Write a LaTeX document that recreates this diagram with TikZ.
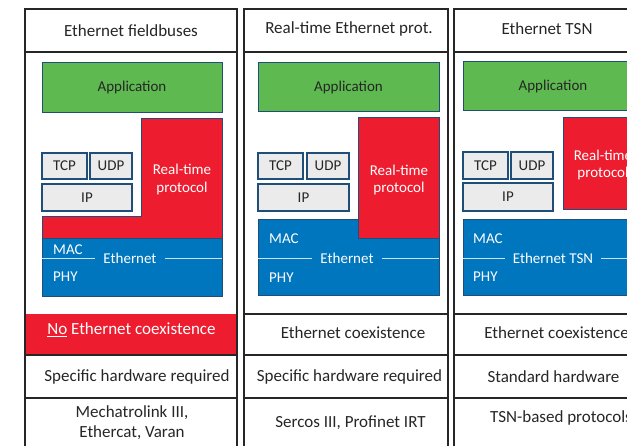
\documentclass[tikz,border=0pt]{standalone}
\usepackage{fontspec}
\setmainfont{Carlito}
\definecolor{appgreen}{RGB}{94,185,80}
\definecolor{rtred}{RGB}{237,28,46}
\definecolor{ethblue}{RGB}{0,118,190}
\definecolor{edgeblue}{RGB}{31,78,121}
\definecolor{ipgray}{RGB}{235,235,235}
\definecolor{ink}{RGB}{38,38,38}
\definecolor{sepline}{RGB}{205,225,242}
\begin{document}
\begin{tikzpicture}[x=1pt,y=-1pt,
  frame/.style={draw=ink, line width=1.5pt},
  bigtext/.style={text=ink, font=\fontsize{17}{20}\selectfont, inner sep=0pt, align=center},
  smalltext/.style={font=\fontsize{15}{17.5}\selectfont, inner sep=0pt},
  lbox/.style={draw=edgeblue, line width=1pt, inner sep=0pt, outer sep=0pt, anchor=north west, smalltext},
  appbox/.style={lbox, fill=appgreen, text=ink},
  ipbox/.style={lbox, fill=ipgray, text=ink, line width=1.4pt},
  rtbox/.style={lbox, fill=rtred},
  ethbox/.style={lbox, fill=ethblue},
  wtext/.style={smalltext, text=white, align=center},
  ethlabel/.style={smalltext, text=white, inner xsep=8pt},
  sep/.style={draw=sepline, line width=0.9pt}]
\useasboundingbox (0,0) rectangle (627,446);
\clip (0,0) rectangle (627,446);
\fill[white] (0,0) rectangle (627,446);

% ---------- column 1 ----------
\fill[rtred] (25,314) rectangle (237,355);
\draw[frame] (25,470) -- (25,9) -- (237,9) -- (237,470);
\draw[frame] (25,52) -- (237,52);
\draw[frame] (25,355) -- (237,355);
\draw[frame] (25,398) -- (237,398);
\node[bigtext] (h1) at (131,31) {Ethernet fieldbuses};
\node[appbox, minimum width=180pt, minimum height=50pt] (app1) at (42,63) {Application};
\draw[edgeblue, line width=1pt, fill=rtred] (141,119) -- (222,119) -- (222,239) -- (42,239) -- (42,217) -- (141,217) -- cycle;
\node[wtext] (rt1) at (182,179.5) {Real-time\\protocol};
\node[ipbox, minimum width=45pt, minimum height=26pt] (tcp1) at (42,153) {TCP};
\node[ipbox, minimum width=42pt, minimum height=26pt] (udp1) at (90,153) {UDP};
\node[ipbox, minimum width=90pt, minimum height=27pt] (ip1) at (42,184) {IP};
\node[ethbox, minimum width=180pt, minimum height=58pt] (eth1) at (42,239) {};
\node[ethlabel] (el1) at (130,258) {Ethernet};
\draw[sep] (eth1.west |- el1.center) -- (el1.west);
\draw[sep] (el1.east) -- (eth1.east |- el1.center);
\node[smalltext, text=white, anchor=west] (mac1) at (53,250) {MAC};
\node[smalltext, text=white, anchor=west] (phy1) at (53,277) {PHY};
\node[bigtext, text=white] (co1) at (131.5,330) {\underline{No} Ethernet coexistence};
\node[bigtext] (hw1) at (137,377) {Specific hardware required};
\node[bigtext, align=center] (ex1) at (132,423) {Mechatrolink III,\\[0pt]Ethercat, Varan};

% ---------- column 2 ----------
\draw[frame] (244,470) -- (244,9) -- (448,9) -- (448,470);
\draw[frame] (244,52) -- (448,52);
\draw[frame] (244,314) -- (448,314);
\draw[frame] (244,355) -- (448,355);
\draw[frame] (244,398) -- (448,398);
\node[bigtext] (h2) at (349,29) {Real-time Ethernet prot.};
\node[appbox, minimum width=181pt, minimum height=49pt] (app2) at (258,63) {Application};
\node[ipbox, minimum width=45pt, minimum height=26pt] (tcp2) at (258,153) {TCP};
\node[ipbox, minimum width=42pt, minimum height=26pt] (udp2) at (307,153) {UDP};
\node[ipbox, minimum width=91pt, minimum height=27pt] (ip2) at (258,184) {IP};
\node[ethbox, minimum width=181pt, minimum height=76pt] (eth2) at (258,220) {};
\node[rtbox, minimum width=81pt, minimum height=121pt] (rtb2) at (358,118) {};
\node[wtext] (rt2) at (399,180) {Real-time\\protocol};
\node[ethlabel] (el2) at (347,258) {Ethernet};
\draw[sep] (eth2.west |- el2.center) -- (el2.west);
\draw[sep] (el2.east) -- (eth2.east |- el2.center);
\node[smalltext, text=white, anchor=west] (mac2) at (269,239) {MAC};
\node[smalltext, text=white, anchor=west] (phy2) at (269,278) {PHY};
\node[bigtext] (co2) at (353,333) {Ethernet coexistence};
\node[bigtext] (hw2) at (349.5,377) {Specific hardware required};
\node[bigtext] (ex2) at (350.5,423) {Sercos III, Profinet IRT};

% ---------- column 3 ----------
\draw[frame] (454,470) -- (454,9) -- (658,9) -- (658,470);
\draw[frame] (454,52) -- (658,52);
\draw[frame] (454,314) -- (658,314);
\draw[frame] (454,355) -- (658,355);
\draw[frame] (454,398) -- (658,398);
\node[bigtext] (h3) at (547,29) {Ethernet TSN};
\node[appbox, minimum width=180pt, minimum height=49pt] (app3) at (463,62) {Application};
\node[ipbox, minimum width=45pt, minimum height=27pt] (tcp3) at (463,152) {TCP};
\node[ipbox, minimum width=42pt, minimum height=27pt] (udp3) at (511,152) {UDP};
\node[ipbox, minimum width=90pt, minimum height=28pt] (ip3) at (463,183) {IP};
\node[rtbox, minimum width=80pt, minimum height=92pt] (rtb3) at (563,118) {};
\node[wtext] (rt3) at (603,165) {Real-time\\protocol};
\node[ethbox, minimum width=180pt, minimum height=76pt] (eth3) at (463,220) {};
\node[ethlabel] (el3) at (553,258) {Ethernet TSN};
\draw[sep] (eth3.west |- el3.center) -- (el3.west);
\draw[sep] (el3.east) -- (eth3.east |- el3.center);
\node[smalltext, text=white, anchor=west] (mac3) at (473,239) {MAC};
\node[smalltext, text=white, anchor=west] (phy3) at (473,277) {PHY};
\node[bigtext] (co3) at (556.5,333) {Ethernet coexistence};
\node[bigtext] (hw3) at (553.5,377) {Standard hardware};
\node[bigtext] (ex3) at (561,418) {TSN-based protocols};
\end{tikzpicture}
\end{document}
